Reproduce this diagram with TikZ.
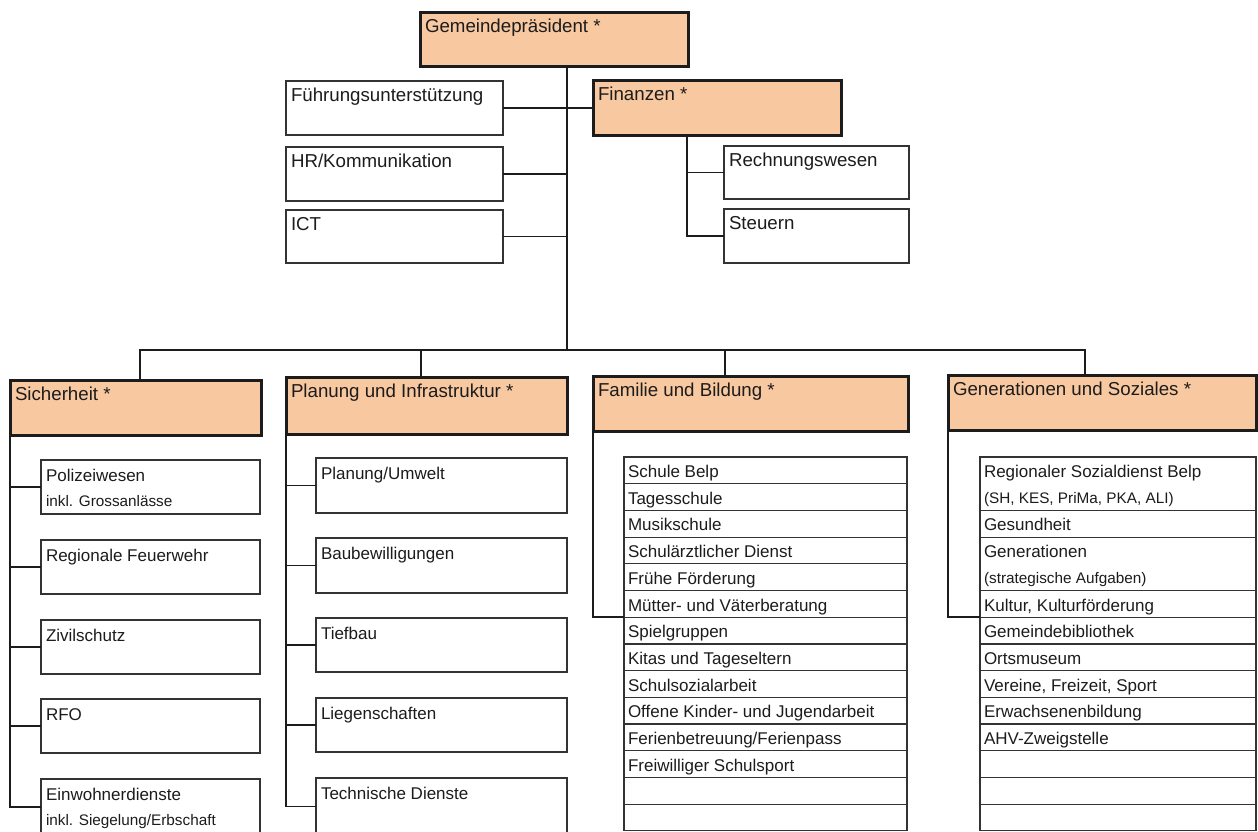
\documentclass[tikz,border=0pt]{standalone}
\usepackage{fontspec}
\setmainfont{Liberation Sans}
\definecolor{peach}{RGB}{248,200,160}
\definecolor{ink}{RGB}{28,28,28}
\tikzset{
  every node/.style={inner sep=0pt, outer sep=0pt},
  leadbox/.style={draw=ink, line width=3pt, fill=peach, rectangle},
  unitbox/.style={draw=ink!90, line width=1.5pt, fill=white, rectangle},
  rowbox/.style={draw=ink!90, line width=1.2pt, fill=white, rectangle},
  link/.style={draw=ink, line width=1.7pt},
  txtbig/.style={font=\fontsize{18.7}{22}\selectfont, text=ink, anchor=base west},
  txtmid/.style={font=\fontsize{17}{20}\selectfont, text=ink, anchor=base west},
  txtsml/.style={font=\fontsize{15.3}{18}\selectfont, text=ink, anchor=base west},
}
% #1 name, #2 style, #3 x1, #4 y1, #5 x2, #6 y2
\newcommand{\bx}[6]{\node[#2, anchor=north west, minimum width={(#5-#3)*1pt}, minimum height={(#6-#4)*1pt}] (#1) at (#3,#4) {};}
% #1 text node name, #2 box name, #3 style, #4 dx, #5 dy, #6 text
\newcommand{\lbl}[6]{\node[#3] (#1) at ([shift={(#4pt,-#5pt)}]#2.north west) {#6};}
\begin{document}
\begin{tikzpicture}[x=1pt,y=-1pt]
\useasboundingbox (0,0) rectangle (1258,831);
\fill[white] (0,0) rectangle (1258,831);
\clip (0,0) rectangle (1258,831);

% coordinates for trunk and bus
\coordinate (bus) at (567,350);
\coordinate (d1) at (140,350);
\coordinate (d2) at (421,350);
\coordinate (d3) at (725,350);
\coordinate (d4) at (1085,350);
\coordinate (finbr) at (687,135);

% top level boxes
\bx{gp}{leadbox}{420}{12}{688}{66}
\bx{fu}{unitbox}{286}{81}{503}{135}
\bx{hr}{unitbox}{286}{147}{503}{201}
\bx{ict}{unitbox}{286}{210}{503}{263}
\bx{fin}{leadbox}{593}{80}{841}{135}
\bx{rw}{unitbox}{724}{146}{909}{199}
\bx{st}{unitbox}{724}{209}{909}{263}

% department headers
\bx{si}{leadbox}{10}{380}{261}{435}
\bx{pl}{leadbox}{286}{377}{567}{434}
\bx{fa}{leadbox}{593}{376}{908}{431}
\bx{ge}{leadbox}{948}{375}{1256}{430}

% connectors (top)
\draw[link] (gp.south -| bus) -- (bus);
\draw[link] (fu.east) -- (fu.east -| fin.west);
\draw[link] (hr.east) -- (hr.east -| bus);
\draw[link] (ict.east) -- (ict.east -| bus);
\draw[link] (finbr) |- (rw.west);
\draw[link] (finbr) |- (st.west);
\draw[link] (si.north -| d1) -- (d1) -- (d4) -- (ge.north -| d4);
\draw[link] (d2) -- (pl.north -| d2);
\draw[link] (d3) -- (fa.north -| d3);

% Sicherheit children
\bx{s1}{unitbox}{41}{460}{260}{514}
\bx{s2}{unitbox}{41}{540}{260}{594}
\bx{s3}{unitbox}{41}{620}{260}{674}
\bx{s4}{unitbox}{41}{699}{260}{753}
\bx{s5}{unitbox}{41}{779}{260}{835}
\draw[link] (si.south west) |- (s5.west);
\foreach \n in {s1,s2,s3,s4} \draw[link] (si.south west |- \n.west) -- (\n.west);

% Planung children
\bx{p1}{unitbox}{316}{458}{567}{513}
\bx{p2}{unitbox}{316}{538}{567}{593}
\bx{p3}{unitbox}{316}{618}{567}{672}
\bx{p4}{unitbox}{316}{698}{567}{752}
\bx{p5}{unitbox}{316}{778}{567}{835}
\draw[link] (pl.south west) |- (p5.west);
\foreach \n in {p1,p2,p3,p4} \draw[link] (pl.south west |- \n.west) -- (\n.west);

% Familie list
\bx{f1}{rowbox}{624}{457}{907}{483.7}
\bx{f2}{rowbox}{624}{483.7}{907}{510.4}
\bx{f3}{rowbox}{624}{510.4}{907}{537.1}
\bx{f4}{rowbox}{624}{537.1}{907}{563.8}
\bx{f5}{rowbox}{624}{563.8}{907}{590.5}
\bx{f6}{rowbox}{624}{590.5}{907}{617.2}
\bx{f7}{rowbox}{624}{617.2}{907}{643.9}
\bx{f8}{rowbox}{624}{643.9}{907}{670.6}
\bx{f9}{rowbox}{624}{670.6}{907}{697.3}
\bx{f10}{rowbox}{624}{697.3}{907}{724}
\bx{f11}{rowbox}{624}{724}{907}{750.7}
\bx{f12}{rowbox}{624}{750.7}{907}{777.4}
\bx{f13}{rowbox}{624}{777.4}{907}{804.1}
\bx{f14}{rowbox}{624}{804.1}{907}{830.5}
\draw[link] (fa.south west) |- (f6.south west);

% Generationen list
\bx{g1}{rowbox}{980}{457}{1256}{510.4}
\bx{g2}{rowbox}{980}{510.4}{1256}{537.1}
\bx{g3}{rowbox}{980}{537.1}{1256}{590.5}
\bx{g4}{rowbox}{980}{590.5}{1256}{617.2}
\bx{g5}{rowbox}{980}{617.2}{1256}{643.9}
\bx{g6}{rowbox}{980}{643.9}{1256}{670.6}
\bx{g7}{rowbox}{980}{670.6}{1256}{697.3}
\bx{g8}{rowbox}{980}{697.3}{1256}{724}
\bx{g9}{rowbox}{980}{724}{1256}{750.7}
\bx{g10}{rowbox}{980}{750.7}{1256}{777.4}
\bx{g11}{rowbox}{980}{777.4}{1256}{804.1}
\bx{g12}{rowbox}{980}{804.1}{1256}{830.5}
\draw[link] (ge.south west) |- (g4.south west);

% labels
\lbl{gp-t}{gp}{txtbig}{5}{20.5}{Gemeindepräsident *}
\lbl{fu-t}{fu}{txtbig}{5}{20.5}{Führungsunterstützung}
\lbl{hr-t}{hr}{txtbig}{5}{20.5}{HR/Kommunikation}
\lbl{ict-t}{ict}{txtbig}{5}{20.5}{ICT}
\lbl{fin-t}{fin}{txtbig}{5}{20.5}{Finanzen *}
\lbl{rw-t}{rw}{txtbig}{5}{20.5}{Rechnungswesen}
\lbl{st-t}{st}{txtbig}{5}{20.5}{Steuern}
\lbl{si-t}{si}{txtbig}{5}{20.5}{Sicherheit *}
\lbl{pl-t}{pl}{txtbig}{5}{20.5}{Planung und Infrastruktur *}
\lbl{fa-t}{fa}{txtbig}{5}{20.5}{Familie und Bildung *}
\lbl{ge-t}{ge}{txtbig}{5}{20.5}{Generationen und Soziales *}

\lbl{s1-t}{s1}{txtmid}{5}{21.5}{Polizeiwesen}
\lbl{s1-u}{s1}{txtsml}{5}{46.5}{inkl. Grossanlässe}
\lbl{s2-t}{s2}{txtmid}{5}{21.5}{Regionale Feuerwehr}
\lbl{s3-t}{s3}{txtmid}{5}{21.5}{Zivilschutz}
\lbl{s4-t}{s4}{txtmid}{5}{21.5}{RFO}
\lbl{s5-t}{s5}{txtmid}{5}{21.5}{Einwohnerdienste}
\lbl{s5-u}{s5}{txtsml}{5}{46.5}{inkl. Siegelung/Erbschaft}

\lbl{p1-t}{p1}{txtmid}{5}{21.5}{Planung/Umwelt}
\lbl{p2-t}{p2}{txtmid}{5}{21.5}{Baubewilligungen}
\lbl{p3-t}{p3}{txtmid}{5}{21.5}{Tiefbau}
\lbl{p4-t}{p4}{txtmid}{5}{21.5}{Liegenschaften}
\lbl{p5-t}{p5}{txtmid}{5}{21.5}{Technische Dienste}

\lbl{f1-t}{f1}{txtmid}{4}{20.5}{Schule Belp}
\lbl{f2-t}{f2}{txtmid}{4}{20.5}{Tagesschule}
\lbl{f3-t}{f3}{txtmid}{4}{20.5}{Musikschule}
\lbl{f4-t}{f4}{txtmid}{4}{20.5}{Schulärztlicher Dienst}
\lbl{f5-t}{f5}{txtmid}{4}{20.5}{Frühe Förderung}
\lbl{f6-t}{f6}{txtmid}{4}{20.5}{Mütter- und Väterberatung}
\lbl{f7-t}{f7}{txtmid}{4}{20.5}{Spielgruppen}
\lbl{f8-t}{f8}{txtmid}{4}{20.5}{Kitas und Tageseltern}
\lbl{f9-t}{f9}{txtmid}{4}{20.5}{Schulsozialarbeit}
\lbl{f10-t}{f10}{txtmid}{4}{20.5}{Offene Kinder- und Jugendarbeit}
\lbl{f11-t}{f11}{txtmid}{4}{20.5}{Ferienbetreuung/Ferienpass}
\lbl{f12-t}{f12}{txtmid}{4}{20.5}{Freiwilliger Schulsport}

\lbl{g1-t}{g1}{txtmid}{4}{20.5}{Regionaler Sozialdienst Belp}
\lbl{g1-u}{g1}{txtsml}{4}{46.5}{(SH, KES, PriMa, PKA, ALI)}
\lbl{g2-t}{g2}{txtmid}{4}{20.5}{Gesundheit}
\lbl{g3-t}{g3}{txtmid}{4}{20.5}{Generationen}
\lbl{g3-u}{g3}{txtsml}{4}{46.5}{(strategische Aufgaben)}
\lbl{g4-t}{g4}{txtmid}{4}{20.5}{Kultur, Kulturförderung}
\lbl{g5-t}{g5}{txtmid}{4}{20.5}{Gemeindebibliothek}
\lbl{g6-t}{g6}{txtmid}{4}{20.5}{Ortsmuseum}
\lbl{g7-t}{g7}{txtmid}{4}{20.5}{Vereine, Freizeit, Sport}
\lbl{g8-t}{g8}{txtmid}{4}{20.5}{Erwachsenenbildung}
\lbl{g9-t}{g9}{txtmid}{4}{20.5}{AHV-Zweigstelle}
\end{tikzpicture}
\end{document}
